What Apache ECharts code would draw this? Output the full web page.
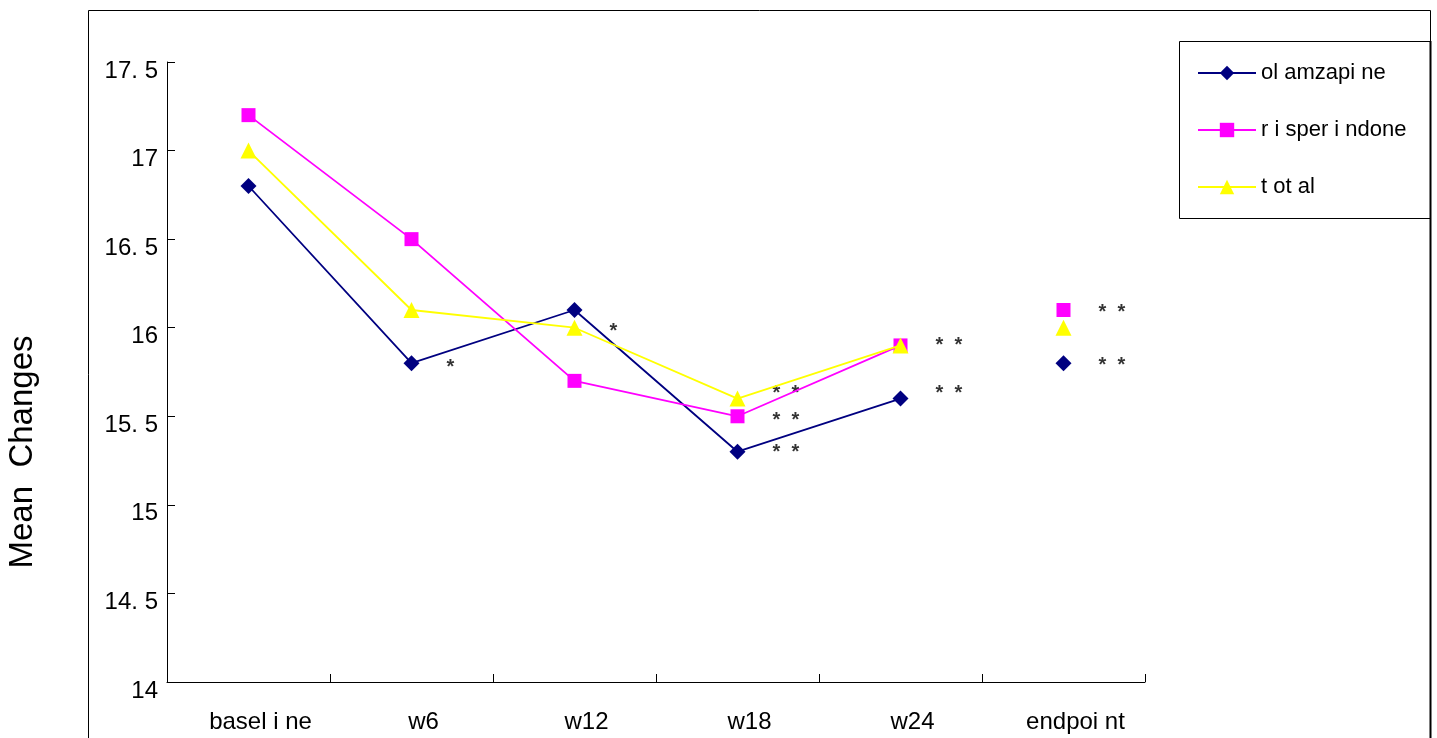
<!DOCTYPE html>
<html>
<head>
<meta charset="utf-8">
<script src="https://cdn.jsdelivr.net/npm/echarts@6/dist/echarts.min.js"></script>
<style>
html,body{margin:0;padding:0;background:#fff;}
#c{width:1437px;height:738px;}
</style>
</head>
<body>
<div id="c"></div>
<script>
var categories = ['basel i ne', 'w6', 'w12', 'w18', 'w24', 'endpoi nt'];
var seriesNames = ['ol amzapi ne', 'r i sper i ndone', 't ot al'];
var olanzapine = [16.8, 15.8, 16.1, 15.3, 15.6, null];
var risperidone = [17.2, 16.5, 15.7, 15.5, 15.9, null];
var total = [17.0, 16.1, 16.0, 15.6, 15.9, null];
var endpointValues = [15.8, 16.1, 16.0];
var yTicks = [14, 14.5, 15, 15.5, 16, 16.5, 17, 17.5];
var yAxisTitle = 'Mean  Changes';
var annotations = [
  ['w6', 15.8, '*'],
  ['w12', 16.0, '*'],
  ['w18', 15.65, '*  *'],
  ['w18', 15.5, '*  *'],
  ['w18', 15.32, '*  *'],
  ['w24', 15.92, '*  *'],
  ['w24', 15.65, '*  *'],
  ['endpoi nt', 16.11, '*  *'],
  ['endpoi nt', 15.81, '*  *']
];

var colors = ['#000080', '#FF00FF', '#FFFF00'];
var symbols = ['diamond', 'rect', 'triangle'];
var sizes = [16, 14, 16];
var values = [olanzapine, risperidone, total];
var FONT = '"Liberation Sans", Arial, sans-serif';

var series = [];
seriesNames.forEach(function (n, i) {
  series.push({
    name: n, type: 'line', data: values[i],
    symbol: symbols[i], symbolSize: sizes[i], showAllSymbol: true,
    lineStyle: { color: colors[i], width: 1.8 },
    itemStyle: { color: colors[i], opacity: 1 },
    z: 3 + i
  });
});
seriesNames.forEach(function (n, i) {
  series.push({
    name: n + '_end', type: 'scatter',
    data: [[categories[5], endpointValues[i]]],
    symbol: symbols[i], symbolSize: sizes[i],
    itemStyle: { color: colors[i], opacity: 1 }, z: 3 + i
  });
});
series.push({
  type: 'scatter', data: annotations, symbolSize: 0, silent: true,
  label: {
    show: true, position: 'inside', offset: [35, 4], align: 'left',
    formatter: function (p) { return p.data[2]; },
    color: '#000', fontSize: 20, fontWeight: 'bold', fontFamily: FONT
  }
});

var chart = echarts.init(document.getElementById('c'));
chart.setOption({
  animation: false,
  backgroundColor: '#fff',
  grid: { left: 167, right: 292, top: 62, bottom: 56 },
  legend: {
    data: seriesNames, orient: 'vertical', left: 1197, top: 62,
    itemWidth: 58, itemHeight: 18, itemGap: 35, itemTextGap: 7, padding: 0,
    textStyle: { fontSize: 22, lineHeight: 22, color: '#000', fontFamily: FONT }
  },
  xAxis: {
    type: 'category', data: categories, boundaryGap: true,
    axisLine: { lineStyle: { color: '#000', width: 1 } },
    axisTick: { show: true, interval: 0, inside: true, length: 8, lineStyle: { color: '#000' }, alignWithLabel: false },
    axisLabel: {
      margin: 28, color: '#000', interval: 0,
      formatter: function (v) { return '{a|' + v + '}'; },
      rich: { a: { fontSize: 24, fontFamily: FONT, color: '#000', padding: [0, 0, 0, 24] } }
    },
    splitLine: { show: false }
  },
  yAxis: {
    type: 'value', min: yTicks[0], max: yTicks[yTicks.length - 1], interval: 0.5,
    axisLine: { show: true, lineStyle: { color: '#000', width: 1 } },
    axisTick: { show: true, inside: true, length: 8, lineStyle: { color: '#000' } },
    axisLabel: {
      margin: 9, fontSize: 24, color: '#000', fontFamily: FONT,
      verticalAlign: 'top', lineHeight: 18,
      formatter: function (v) { return String(v).replace('.', '. '); }
    },
    splitLine: { show: false }
  },
  graphic: [
    { type: 'rect', shape: { x: 88.5, y: 10.5, width: 1342, height: 800 },
      style: { fill: 'none', stroke: '#000', lineWidth: 1 }, silent: true },
    { type: 'line', shape: { x1: 1430.5, y1: 41, x2: 1430.5, y2: 738 },
      style: { stroke: '#000', lineWidth: 2 }, silent: true },
    { type: 'rect', shape: { x: 1179.5, y: 41.5, width: 251, height: 177 },
      style: { fill: 'none', stroke: '#000', lineWidth: 1 }, silent: true },
    { type: 'text', x: 23, y: 452, rotation: Math.PI / 2,
      style: { text: yAxisTitle, fontSize: 33, fill: '#000', fontFamily: FONT,
               align: 'center', verticalAlign: 'middle' }, silent: true }
  ],
  series: series
});
</script>
</body>
</html>
